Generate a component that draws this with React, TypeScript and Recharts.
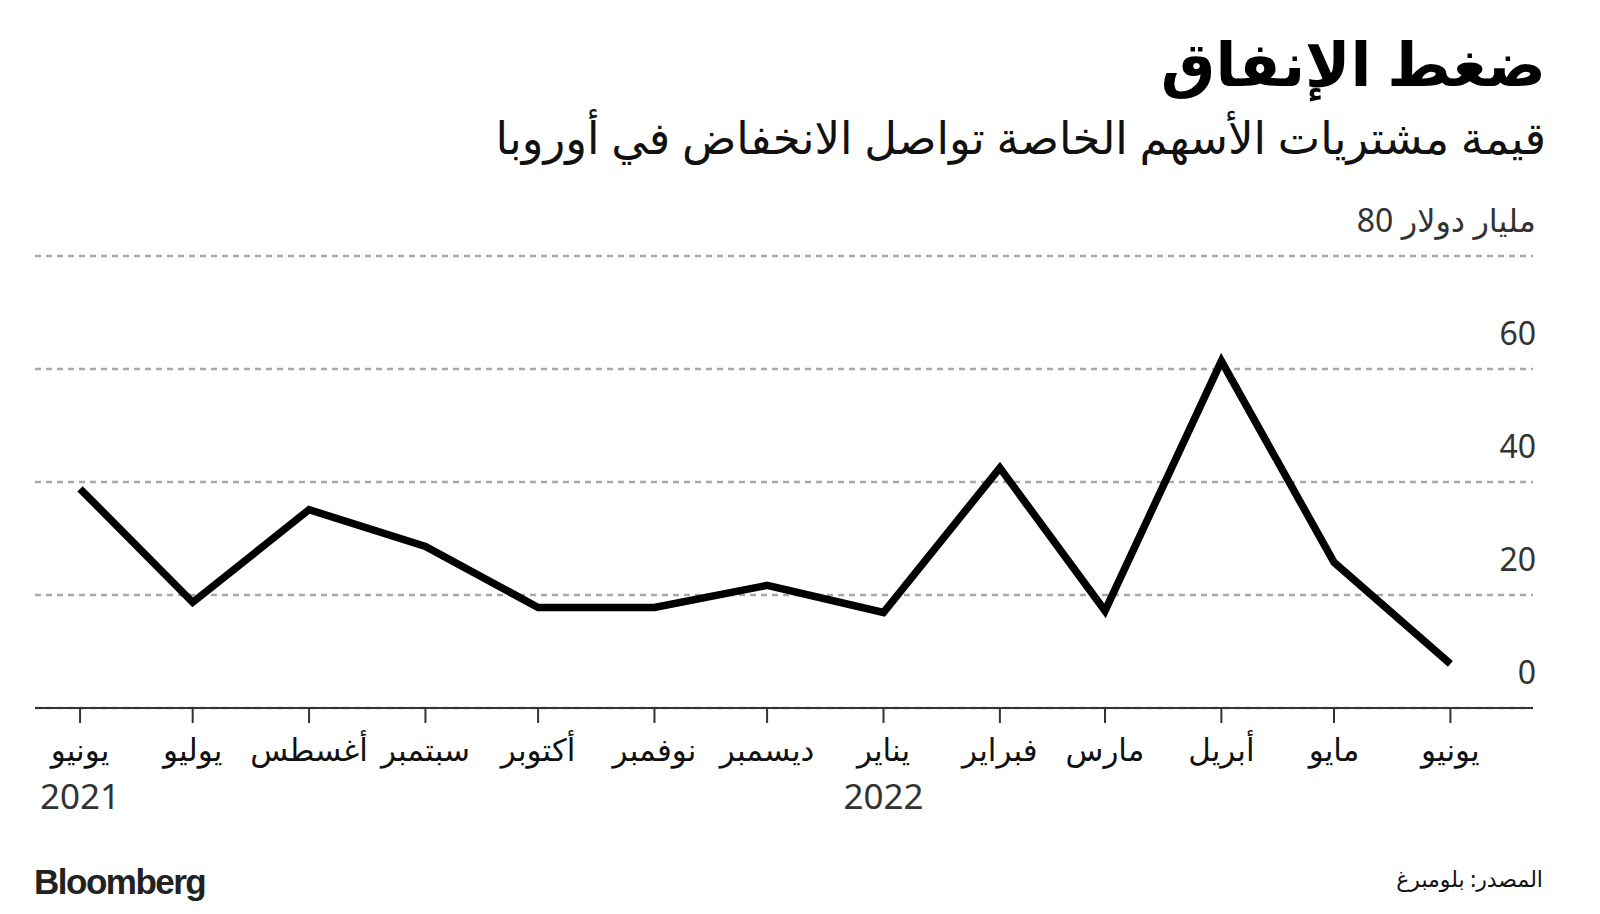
import { LineChart, Line, XAxis, YAxis, CartesianGrid } from 'recharts';

// days since 1 Jun 2021, one point per month
const days = [0, 30, 61, 92, 122, 153, 183, 214, 245, 273, 304, 334, 365];
const months = ['يونيو', 'يوليو', 'أغسطس', 'سبتمبر', 'أكتوبر', 'نوفمبر', 'ديسمبر', 'يناير', 'فبراير', 'مارس', 'أبريل', 'مايو', 'يونيو'];
const years = ['2021', '', '', '', '', '', '', '2022', '', '', '', '', ''];
const values = [38.8, 18.7, 35.1, 28.6, 17.8, 17.8, 21.7, 16.9, 42.5, 17.2, 61.4, 25.8, 7.8];
const yTicks = [0, 20, 40, 60, 80];

const data = days.map((d, i) => ({ day: d, value: values[i] }));

const FONT = '"Noto Sans", "DejaVu Sans", sans-serif';

const MonthTick = (props: any) => {
  const { x, y, payload } = props;
  const i = days.indexOf(payload.value);
  return (
    <g>
      <text x={x} y={y + 36} textAnchor="middle" fontSize={31} fill="#111" fontFamily={FONT}>
        {months[i]}
      </text>
      {years[i] && (
        <text x={x} y={y + 84} textAnchor="middle" fontSize={35} fill="#333" fontFamily={FONT}>
          {years[i]}
        </text>
      )}
    </g>
  );
};

const ValueTick = (props: any) => {
  const { x, y, payload } = props;
  const label = payload.value === 80 ? 'مليار دولار 80' : String(payload.value);
  return (
    <text x={x + 3} y={y - 24} textAnchor="end" fontSize={32} fill="#333" fontFamily={FONT}>
      {label}
    </text>
  );
};

export default function App() {
  return (
    <div style={{ position: 'absolute', left: 0, top: 0, width: 1600, height: 914, background: '#fff', fontFamily: FONT }}>
      <div dir="rtl" style={{ position: 'absolute', right: 54, top: 26, fontSize: 61, fontWeight: 700, color: '#000', lineHeight: 1.2 }}>
        ضغط الإنفاق
      </div>
      <div dir="rtl" style={{ position: 'absolute', right: 54, top: 110, fontSize: 45, color: '#111', lineHeight: 1.2 }}>
        قيمة مشتريات الأسهم الخاصة تواصل الانخفاض في أوروبا
      </div>

      <div style={{ position: 'absolute', left: 0, top: 0 }}>
        <LineChart width={1600} height={914} data={data} margin={{ top: 256, right: 66, bottom: 176, left: 35 }}>
          <CartesianGrid vertical={false} stroke="#a8a8a8" strokeWidth={2.5} strokeDasharray="6 5" />
          <XAxis
            dataKey="day"
            type="number"
            domain={[-12, 387]}
            ticks={days}
            interval={0}
            height={30}
            axisLine={{ stroke: '#333', strokeWidth: 2 }}
            tickLine={{ stroke: '#333', strokeWidth: 2 }}
            tickSize={15}
            tick={<MonthTick />}
          />
          <YAxis
            orientation="right"
            domain={[0, 80]}
            ticks={yTicks}
            width={1}
            axisLine={false}
            tickLine={false}
            tickSize={0}
            tickMargin={0}
            tick={<ValueTick />}
          />
          <Line
            type="linear"
            dataKey="value"
            stroke="#000"
            strokeWidth={7.5}
            dot={false}
            strokeLinejoin="miter"
            isAnimationActive={false}
          />
        </LineChart>
      </div>

      <div style={{ position: 'absolute', left: 34, top: 862, fontFamily: '"Liberation Sans", Arial, sans-serif', fontWeight: 900, fontSize: 35, letterSpacing: -1.5, color: '#222' }}>
        Bloomberg
      </div>
      <div dir="rtl" style={{ position: 'absolute', right: 57, top: 863, fontSize: 22, color: '#111' }}>
        المصدر: بلومبرغ
      </div>
    </div>
  );
}
